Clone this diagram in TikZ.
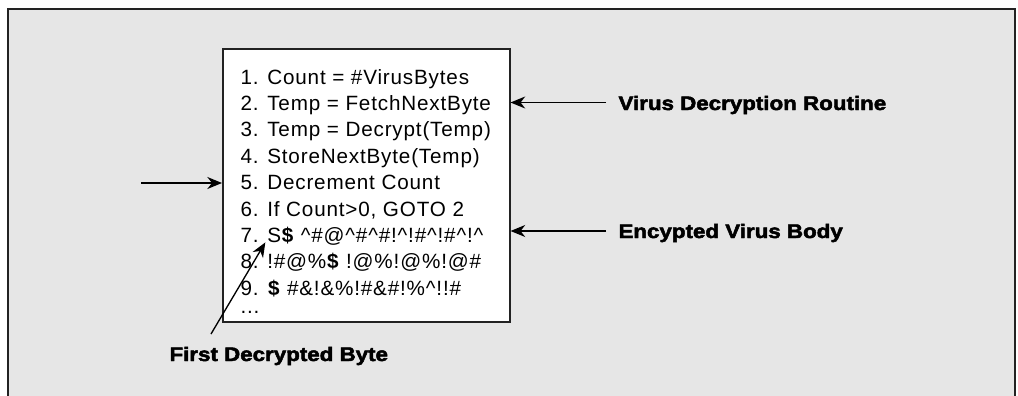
\documentclass[tikz,border=0pt]{standalone}
\usepackage{fontspec}
\setmainfont{Liberation Sans}
\newfontfamily\codefont{Liberation Sans}[LetterSpace=4]
\newfontfamily\heavyfont{Liberation Sans}[FakeStretch=1.14,FakeBold=2.5]
\usetikzlibrary{arrows.meta}

\definecolor{panelgray}{RGB}{230,230,230}
\definecolor{edgegray}{RGB}{34,34,34}

\tikzset{every picture/.style={line width=0.75pt}}
\tikzset{
  codeline/.style={anchor=base west,inner sep=0pt,font=\codefont\fontsize{15.5}{19}\selectfont},
  callout/.style={anchor=base west,inner sep=0pt,font=\heavyfont\bfseries\fontsize{14.7}{18}\selectfont},
  pointer/.style={line width=1pt,-{Stealth[length=11pt,width=9pt,inset=3.5pt]}}
}

\begin{document}
\begin{tikzpicture}[x=0.75pt,y=0.75pt,yscale=-1,xscale=1]
	\useasboundingbox (0,0) rectangle (1018,396);
	
	%Panel
	\draw [draw=edgegray, fill=panelgray, line width=1.2pt] (8,9) rectangle (1015,410) ;
	
	%Code box
	\node [draw=edgegray, fill=white, line width=1.5pt, minimum width=214.9pt, minimum height=205.1pt, anchor=north west, inner sep=0pt] (box) at (222,48) {};
	
	% Text Node
	\node [codeline] (l1) at (240,84) {1. Count = \#VirusBytes};
	% Text Node
	\node [codeline] (l2) at (240,110.4) {2. Temp = FetchNextByte};
	% Text Node
	\node [codeline] (l3) at (240,136.8) {3. Temp = Decrypt(Temp)};
	% Text Node
	\node [codeline] (l4) at (240,163.2) {4. StoreNextByte(Temp)};
	% Text Node
	\node [codeline] (l5) at (240,189.6) {5. Decrement Count};
	% Text Node
	\node [codeline] (l6) at (240,216) {6. If Count>0, GOTO 2};
	% Text Node
	\node [codeline] (l7) at (240,242.4) {7. S\textbf{\$} \textasciicircum\#@\textasciicircum\#\textasciicircum\#!\textasciicircum!\#\textasciicircum!\#\textasciicircum!\textasciicircum};
	% Text Node
	\node [codeline] (l8) at (240,268.8) {8. !\#@\%\textbf{\$} !@\%!@\%!@\#};
	% Text Node
	\node [codeline] (l9) at (240,295.2) {9. \textbf{\$} \#\&!\&\%!\#\&\#!\%\textasciicircum!!\#};
	% Text Node
	\node [codeline] (dots) at (240,313) {...};
	
	% Callouts
	\node [callout] (routine) at (618,110) {Virus Decryption Routine};
	\node [callout] (body) at (618,238) {Encypted Virus Body};
	\node [callout] (first) at (169,361) {First Decrypted Byte};
	
	\coordinate (routine-tail) at (606,102.5);
	\coordinate (body-tail) at (606,231);
	\coordinate (entry-tail) at (141,183);
	\coordinate (first-tail) at (211,334);
	
	%Arrows
	\draw [pointer] (routine-tail) -- (routine-tail -| box.east) ;
	\draw [pointer] (body-tail) -- (body-tail -| box.east) ;
	\draw [pointer] (entry-tail) -- (entry-tail -| box.west) ;
	\draw [pointer] (first-tail) -- ([xshift=19pt]l7.base west) ;
	
\end{tikzpicture}
\end{document}
